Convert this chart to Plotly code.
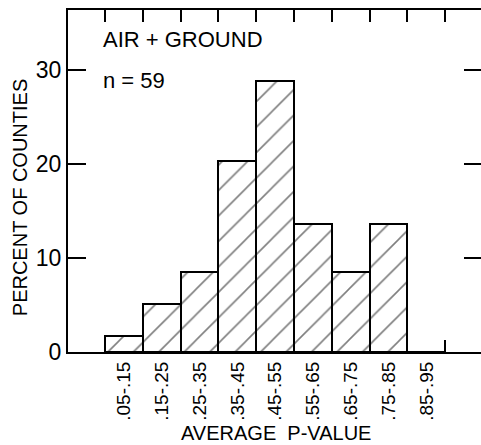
import plotly.graph_objects as go

# Average P-value bins (class limits) and share of counties in each
bin_labels = [".05-.15", ".15-.25", ".25-.35", ".35-.45", ".45-.55",
              ".55-.65", ".65-.75", ".75-.85", ".85-.95"]
bin_centers = [0.10, 0.20, 0.30, 0.40, 0.50, 0.60, 0.70, 0.80, 0.90]
bin_edges = [0.05, 0.15, 0.25, 0.35, 0.45, 0.55, 0.65, 0.75, 0.85, 0.95, 1.05]
percent_counties = [1.7, 5.1, 8.5, 20.3, 28.8, 13.6, 8.5, 13.6, 0.0]
y_ticks = [0, 10, 20, 30]

FONT = "Liberation Sans, Arial, sans-serif"
x_range = [-0.048, 1.0446]
y_range = [0, 36.4]

fig = go.Figure()

fig.add_trace(go.Bar(
    x=bin_centers,
    y=percent_counties,
    width=0.1,
    marker=dict(
        color="white",
        line=dict(color="black", width=2),
        pattern=dict(shape="/", fgcolor="black", bgcolor="white",
                     size=18, solidity=0.09),
    ),
    showlegend=False,
    hoverinfo="skip",
))

# empty trace carrying the secondary axes (bin-edge ticks, right-side ticks)
fig.add_trace(go.Scatter(x=[], y=[], xaxis="x2", yaxis="y2",
                         showlegend=False, hoverinfo="skip"))

fig.update_layout(
    width=481, height=445,
    margin=dict(l=68, r=0, t=10, b=93),
    paper_bgcolor="white", plot_bgcolor="white",
    font=dict(family=FONT, color="black"),
    bargap=0,
    xaxis=dict(
        range=x_range,
        tickvals=bin_centers, ticktext=bin_labels,
        tickangle=-90, ticks="",
        tickfont=dict(size=19),
        showline=True, linecolor="black", linewidth=2, mirror=True,
        showgrid=False, zeroline=False,
    ),
    xaxis2=dict(
        overlaying="x", side="bottom", range=x_range,
        tickvals=bin_edges, ticks="inside", ticklen=12, tickwidth=1.5,
        tickcolor="black", showticklabels=False, showline=False,
        mirror="ticks", showgrid=False, zeroline=False,
    ),
    yaxis=dict(
        range=y_range,
        tickvals=y_ticks, ticks="inside", ticklen=18, tickwidth=2,
        tickcolor="black", tickfont=dict(size=23),
        showline=True, linecolor="black", linewidth=2,
        showgrid=False, zeroline=False,
    ),
    yaxis2=dict(
        overlaying="y", side="right", range=y_range,
        tickvals=y_ticks[1:], ticks="inside", ticklen=17, tickwidth=2,
        tickcolor="black", showticklabels=False, showline=False,
        showgrid=False, zeroline=False,
    ),
    annotations=[
        dict(text="AIR + GROUND", x=0.04, y=33.3, xref="x", yref="y",
             xanchor="left", yanchor="middle", showarrow=False,
             font=dict(size=22)),
        dict(text="n = 59", x=0.04, y=28.9, xref="x", yref="y",
             xanchor="left", yanchor="middle", showarrow=False,
             font=dict(size=22)),
        dict(text="AVERAGE  P-VALUE", x=0.504, y=-0.237, xref="paper", yref="paper",
             xanchor="center", yanchor="middle", showarrow=False,
             font=dict(size=20)),
        dict(text="PERCENT OF COUNTIES", x=-0.116, y=0.45, xref="paper", yref="paper",
             xanchor="center", yanchor="middle", textangle=-90, showarrow=False,
             font=dict(size=20)),
    ],
)

fig.write_html("out.html")
